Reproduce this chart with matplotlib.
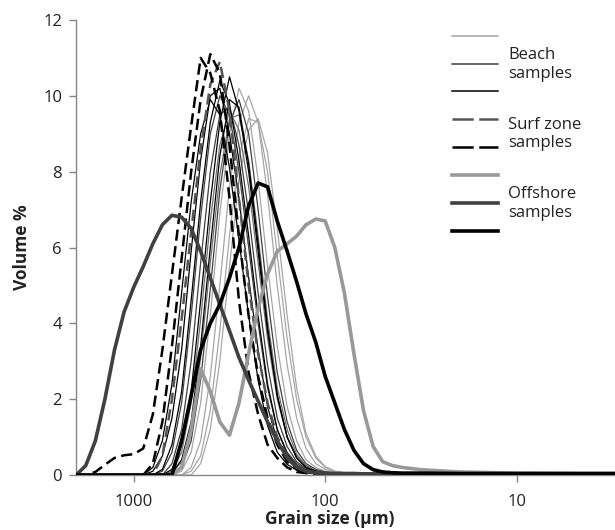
import matplotlib
matplotlib.use('Agg')
import matplotlib.pyplot as plt
from matplotlib.lines import Line2D

plt.rcParams['font.family'] = ['Open Sans', 'DejaVu Sans']

# grain size classes (um), fine steps where the curves live, coarse in the tail
size_um = [1995, 1778, 1585, 1413, 1259, 1122, 1000, 891, 794, 708,
           631, 562, 501, 447, 398, 355, 316, 282, 251, 224,
           200, 178, 158, 141, 126, 112, 100, 89.1, 79.4, 70.8,
           63.1, 56.2, 50.1, 44.7, 39.8, 35.5, 31.6, 20.0, 10.0, 5.0, 2.8]

# beach samples (volume %)
beach_1 = [0, 0, 0, 0, 0, 0, 0, 0, 0.1, 0.5, 1.5, 3.3, 5.9, 8.3, 10.0, 10.2, 9.0, 7.3, 5.2, 3.3,
           1.8, 0.9, 0.45, 0.2, 0.1, 0.06, 0.05, 0.04, 0.04, 0.04, 0.03, 0.03, 0.03, 0.03, 0.03, 0.03,
           0.03, 0.02, 0.02, 0.02, 0.02]
beach_2 = [0, 0, 0, 0, 0, 0, 0, 0, 0, 0.15, 0.8, 2.2, 4.6, 7.2, 9.3, 10.4, 9.8, 8.3, 6.3, 4.2,
           2.4, 1.2, 0.55, 0.25, 0.12, 0.07, 0.05, 0.04, 0.04, 0.04, 0.03, 0.03, 0.03, 0.03, 0.03, 0.03,
           0.03, 0.02, 0.02, 0.02, 0.02]
beach_3 = [0, 0, 0, 0, 0, 0, 0, 0, 0, 0, 0.15, 0.8, 2.2, 4.6, 7.2, 9.3, 10.5, 9.6, 8.0, 5.9,
           3.8, 2.1, 1.0, 0.45, 0.2, 0.1, 0.06, 0.04, 0.04, 0.04, 0.03, 0.03, 0.03, 0.03, 0.03, 0.03,
           0.03, 0.02, 0.02, 0.02, 0.02]
beach_4 = [0, 0, 0, 0, 0, 0, 0, 0, 0, 0.1, 0.6, 1.9, 4.2, 6.8, 9.0, 10.0, 9.5, 8.0, 6.0, 4.0,
           2.3, 1.2, 0.6, 0.3, 0.15, 0.08, 0.06, 0.04, 0.04, 0.04, 0.03, 0.03, 0.03, 0.03, 0.03, 0.03,
           0.03, 0.02, 0.02, 0.02, 0.02]
beach_5 = [0, 0, 0, 0, 0, 0, 0, 0, 0, 0, 0.3, 1.2, 3.0, 5.6, 8.0, 9.5, 9.7, 8.7, 6.9, 4.8,
           2.9, 1.5, 0.75, 0.35, 0.17, 0.09, 0.06, 0.04, 0.04, 0.04, 0.03, 0.03, 0.03, 0.03, 0.03, 0.03,
           0.03, 0.02, 0.02, 0.02, 0.02]
beach_6 = [0, 0, 0, 0, 0, 0, 0, 0, 0, 0, 0.1, 0.6, 1.9, 4.1, 6.7, 8.7, 9.6, 9.1, 7.6, 5.6,
           3.6, 2.0, 1.0, 0.5, 0.25, 0.12, 0.07, 0.04, 0.04, 0.04, 0.03, 0.03, 0.03, 0.03, 0.03, 0.03,
           0.03, 0.02, 0.02, 0.02, 0.02]
beach_7 = [0, 0, 0, 0, 0, 0, 0, 0, 0, 0, 0.05, 0.4, 1.4, 3.4, 6.0, 8.4, 9.9, 9.7, 8.2, 6.1,
           3.9, 2.1, 1.0, 0.45, 0.2, 0.1, 0.06, 0.04, 0.04, 0.04, 0.03, 0.03, 0.03, 0.03, 0.03, 0.03,
           0.03, 0.02, 0.02, 0.02, 0.02]
beach_8 = [0, 0, 0, 0, 0, 0, 0, 0, 0, 0, 0, 0.2, 0.9, 2.5, 4.9, 7.5, 9.3, 9.9, 9.0, 7.0,
           4.7, 2.7, 1.4, 0.65, 0.3, 0.15, 0.08, 0.04, 0.04, 0.04, 0.03, 0.03, 0.03, 0.03, 0.03, 0.03,
           0.03, 0.02, 0.02, 0.02, 0.02]
beach_9 = [0, 0, 0, 0, 0, 0, 0, 0, 0, 0, 0, 0.1, 0.6, 1.9, 4.2, 6.9, 9.0, 10.2, 9.6, 7.8,
           5.5, 3.4, 1.8, 0.9, 0.4, 0.2, 0.1, 0.06, 0.05, 0.04, 0.03, 0.03, 0.03, 0.03, 0.03, 0.03,
           0.03, 0.02, 0.02, 0.02, 0.02]
beach_10 = [0, 0, 0, 0, 0, 0, 0, 0, 0, 0, 0, 0, 0.2, 0.9, 2.6, 5.0, 7.6, 9.3, 10.0, 9.3,
            7.4, 5.0, 2.9, 1.5, 0.7, 0.3, 0.15, 0.08, 0.05, 0.04, 0.03, 0.03, 0.03, 0.03, 0.03, 0.03,
            0.03, 0.02, 0.02, 0.02, 0.02]
beach_11 = [0, 0, 0, 0, 0, 0, 0, 0, 0, 0, 0, 0, 0.1, 0.5, 1.7, 3.8, 6.3, 8.4, 9.4, 9.3,
            8.0, 5.8, 3.6, 2.0, 1.0, 0.45, 0.2, 0.1, 0.06, 0.04, 0.03, 0.03, 0.03, 0.03, 0.03, 0.03,
            0.03, 0.02, 0.02, 0.02, 0.02]
beach_12 = [0, 0, 0, 0, 0, 0, 0, 0, 0, 0, 0, 0, 0, 0.3, 1.2, 3.0, 5.5, 7.8, 9.1, 9.4,
            8.5, 6.5, 4.2, 2.3, 1.1, 0.5, 0.22, 0.1, 0.06, 0.04, 0.03, 0.03, 0.03, 0.03, 0.03, 0.03,
            0.03, 0.02, 0.02, 0.02, 0.02]
beach_13 = [0, 0, 0, 0, 0, 0, 0, 0, 0.2, 0.9, 2.4, 4.8, 7.2, 9.0, 9.9, 9.5, 8.1, 6.2, 4.2, 2.5,
            1.3, 0.6, 0.28, 0.13, 0.07, 0.05, 0.04, 0.04, 0.04, 0.04, 0.03, 0.03, 0.03, 0.03, 0.03, 0.03,
            0.03, 0.02, 0.02, 0.02, 0.02]
beach_14 = [0, 0, 0, 0, 0, 0, 0, 0, 0, 0, 0.05, 0.35, 1.3, 3.1, 5.6, 7.9, 9.4, 9.5, 8.3, 6.3,
            4.1, 2.3, 1.2, 0.55, 0.25, 0.12, 0.07, 0.04, 0.04, 0.04, 0.03, 0.03, 0.03, 0.03, 0.03, 0.03,
            0.03, 0.02, 0.02, 0.02, 0.02]

# surf zone samples
surf_1 = [0, 0, 0.08, 0.27, 0.45, 0.52, 0.55, 0.7, 1.6, 3.3, 5.3, 7.3, 9.2, 11.0, 10.6, 9.6, 7.3, 4.6, 2.7, 1.6,
          0.8, 0.45, 0.2, 0.08, 0.05, 0.04, 0.04, 0.03, 0.03, 0.03, 0.03, 0.03, 0.03, 0.03, 0.03, 0.03,
          0.03, 0.02, 0.02, 0.02, 0.02]
surf_2 = [0, 0, 0, 0, 0, 0, 0, 0, 0.3, 1.4, 3.4, 5.7, 8.0, 9.9, 11.1, 10.6, 8.7, 6.3, 4.2, 2.6,
          1.5, 0.8, 0.35, 0.15, 0.07, 0.05, 0.04, 0.04, 0.03, 0.03, 0.03, 0.03, 0.03, 0.03, 0.03, 0.03,
          0.03, 0.02, 0.02, 0.02, 0.02]
surf_3 = [0, 0, 0, 0, 0, 0, 0, 0, 0, 0.5, 2.0, 4.1, 6.4, 8.6, 10.3, 10.9, 9.6, 7.3, 5.0, 3.2,
          1.9, 1.0, 0.5, 0.2, 0.09, 0.05, 0.04, 0.04, 0.03, 0.03, 0.03, 0.03, 0.03, 0.03, 0.03, 0.03,
          0.03, 0.02, 0.02, 0.02, 0.02]

# offshore samples
offshore_light = [0, 0, 0, 0, 0, 0, 0, 0, 0, 0, 0, 0.2, 1.2, 2.8, 2.2, 1.4, 1.05, 1.9, 3.2, 4.4,
                  5.3, 5.9, 6.1, 6.3, 6.6, 6.75, 6.7, 6.0, 4.8, 3.2, 1.7, 0.75, 0.35, 0.25, 0.2, 0.17,
                  0.14, 0.08, 0.05, 0.04, 0.04]
offshore_dark = [0, 0.25, 0.9, 2.0, 3.3, 4.3, 4.95, 5.5, 6.1, 6.6, 6.85, 6.8, 6.5, 5.9, 5.2, 4.5, 3.8, 3.1, 2.5, 1.95,
                 1.4, 0.9, 0.45, 0.2, 0.1, 0.06, 0.05, 0.04, 0.04, 0.04, 0.03, 0.03, 0.03, 0.03, 0.03, 0.03,
                 0.03, 0.02, 0.02, 0.02, 0.02]
offshore_black = [0, 0, 0, 0, 0, 0, 0, 0, 0, 0, 0, 0.9, 2.1, 3.3, 4.0, 4.5, 5.2, 6.0, 7.1, 7.7,
                  7.6, 6.7, 5.9, 5.1, 4.25, 3.5, 2.6, 1.9, 1.2, 0.65, 0.3, 0.14, 0.08, 0.06, 0.05, 0.05,
                  0.05, 0.04, 0.04, 0.04, 0.04]

light = '#a6a6a6'
dark = '#404040'
mid = '#6e6e6e'

fig = plt.figure(figsize=(6.15, 5.30), dpi=100)
ax = fig.add_axes([76 / 615, 1 - 475 / 530, 1 - 76 / 615, 455 / 530])

beach = [(beach_9, light), (beach_10, light), (beach_11, light), (beach_12, light),
         (beach_4, dark), (beach_5, dark), (beach_6, mid), (beach_8, dark), (beach_14, mid),
         (beach_1, 'black'), (beach_2, 'black'), (beach_3, 'black'), (beach_7, 'black'), (beach_13, 'black')]
for vals, c in beach:
    ax.plot(size_um, vals, color=c, lw=0.9, zorder=2)

for vals, c in [(surf_3, '#555555'), (surf_2, 'black'), (surf_1, 'black')]:
    ax.plot(size_um, vals, color=c, lw=1.8, dashes=(4.5, 2.2), zorder=3)

ax.plot(size_um, offshore_light, color='#999999', lw=2.6, zorder=4)
ax.plot(size_um, offshore_dark, color=dark, lw=2.6, zorder=4)
ax.plot(size_um, offshore_black, color='black', lw=2.6, zorder=5)

ax.set_xscale('log')
ax.set_xlim(2000, 3.07)
ax.set_ylim(0, 12)
ax.set_xticks([1000, 100, 10])
ax.set_xticklabels(['1000', '100', '10'])
ax.xaxis.set_minor_locator(plt.NullLocator())
ax.set_yticks(range(0, 13, 2))

for s in ['top', 'right']:
    ax.spines[s].set_visible(False)
for s in ['left', 'bottom']:
    ax.spines[s].set_color('#868686')
    ax.spines[s].set_linewidth(1.0)
ax.tick_params(axis='both', direction='out', color='#868686', length=5, width=1,
               labelsize=12, labelcolor='#222222')
ax.tick_params(axis='x', pad=9)
ax.tick_params(axis='y', pad=5)

ax.set_xlabel('Grain size (µm)', fontsize=12.5, fontweight='bold', color='#222222')
ax.xaxis.set_label_coords(0.47, -0.078)
ax.set_ylabel('Volume %', fontsize=12.5, fontweight='bold', color='#222222')
ax.yaxis.set_label_coords(-0.083, 0.5)

# legend drawn by hand, grouped like the original
def leg_line(ypx, color, lw, dashes=None):
    ln = Line2D([452 / 615, 498 / 615], [1 - ypx / 530] * 2, transform=fig.transFigure,
                color=color, lw=lw)
    if dashes:
        ln.set_dashes(dashes)
    fig.add_artist(ln)

leg_line(36, light, 1.1)
leg_line(64, dark, 1.1)
leg_line(91, 'black', 1.1)
leg_line(119, '#555555', 1.8, (8.5, 2.2))
leg_line(147, 'black', 1.8, (8.5, 2.2))
leg_line(175, '#999999', 2.6)
leg_line(203, dark, 2.6)
leg_line(231, 'black', 2.6)

for txt, ypx in [('Beach', 55), ('samples', 74), ('Surf zone', 125), ('samples', 143),
                 ('Offshore', 194), ('samples', 213)]:
    fig.text(508 / 615, 1 - ypx / 530, txt, fontsize=12, color='#222222', va='center', ha='left')

fig.savefig('out.png', dpi=100)
